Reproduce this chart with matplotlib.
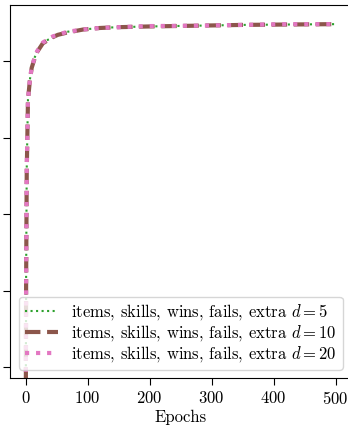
import matplotlib
matplotlib.use("Agg")
import matplotlib.pyplot as plt

plt.rcParams["font.family"] = "serif"
plt.rcParams["font.serif"] = ["cmr10"]
plt.rcParams["mathtext.fontset"] = "cm"
plt.rcParams["axes.formatter.use_mathtext"] = True
plt.rcParams["font.size"] = 12

# validation curve per embedding size
epochs = [0, 1, 2, 4, 7, 10, 15, 19, 28, 44, 52, 67, 93, 120, 148, 200, 277, 350, 420, 499]
acc_d5 = [0.30, 0.62, 0.76, 0.85, 0.875, 0.892, 0.905, 0.912, 0.924, 0.931, 0.934, 0.938,
          0.941, 0.943, 0.944, 0.945, 0.946, 0.947, 0.9475, 0.948]
acc_d10 = [0.30, 0.61, 0.755, 0.849, 0.874, 0.891, 0.904, 0.912, 0.923, 0.931, 0.934, 0.937,
           0.941, 0.943, 0.944, 0.945, 0.946, 0.947, 0.9475, 0.948]
acc_d20 = [0.30, 0.62, 0.76, 0.85, 0.875, 0.892, 0.905, 0.913, 0.924, 0.932, 0.934, 0.938,
           0.941, 0.943, 0.944, 0.9455, 0.946, 0.947, 0.948, 0.948]
label = "items, skills, wins, fails, extra"

fig = plt.figure(figsize=(3.48, 4.26), dpi=100)
ax = fig.add_axes([10 / 348, 48 / 426, 341 / 348, 373 / 426])

ax.plot(epochs, acc_d5, ":", color="tab:green", lw=1.5, label=label + r" $d = 5$")
ax.plot(epochs, acc_d10, "--", color="tab:brown", lw=3.0, label=label + r" $d = 10$")
ax.plot(epochs, acc_d20, ":", color="tab:pink", lw=3.0, label=label + r" $d = 20$")

ax.set_xlim(-25, 525)
ax.set_ylim(0.486, 0.973)
ax.set_xticks([0, 100, 200, 300, 400, 500])
ax.set_yticks([0.5, 0.6, 0.7, 0.8, 0.9])
ax.set_yticklabels([])
ax.tick_params(length=5)
ax.set_xlabel("Epochs", labelpad=2)
ax.legend(loc="lower right", labelspacing=0.05, borderpad=0.35)

fig.savefig("out.png", dpi=100)
